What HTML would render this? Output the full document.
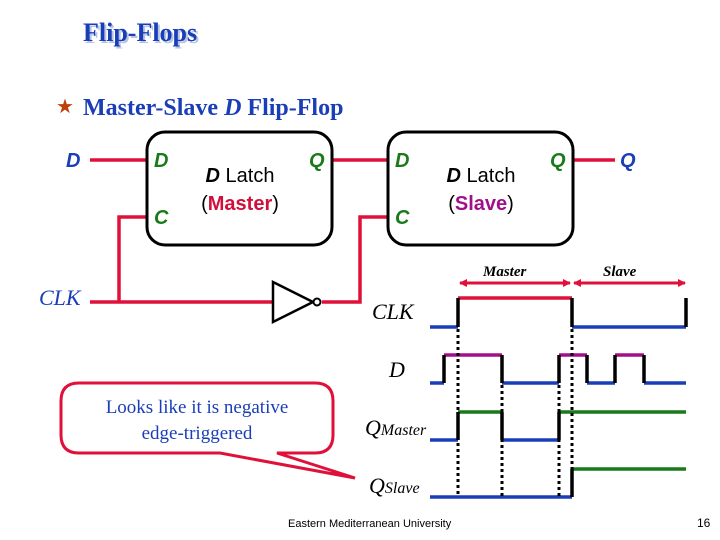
<!DOCTYPE html>
<html><head><meta charset="utf-8"><style>
html,body{margin:0;padding:0;background:#fff;width:720px;height:540px;overflow:hidden}
svg{display:block}
.s{font-family:"Liberation Serif",serif}
.a{font-family:"Liberation Sans",sans-serif}
</style></head><body>
<svg width="720" height="540" viewBox="0 0 720 540">
<defs>
<marker id="ar" markerWidth="8" markerHeight="8" refX="7" refY="4" orient="auto" markerUnits="userSpaceOnUse"><path d="M0,0 L8,4 L0,8 Z" fill="#e0103a"/></marker>
</defs>
<text x="85" y="43" class="s" font-size="26" font-weight="bold" fill="#b8c4e0">Flip-Flops</text>
<text x="83" y="41" class="s" font-size="26" font-weight="bold" fill="#1a3eb8">Flip-Flops</text>
<text x="56" y="113" class="s" font-size="20" fill="#c0400a">★</text>
<text x="83" y="115" class="s" font-size="24" font-weight="bold" fill="#1a3eb8">Master-Slave <tspan font-style="italic">D</tspan> Flip-Flop</text>

<g stroke="#e0103a" stroke-width="3.5" fill="none">
<path d="M90,160 H147"/><path d="M332,160 H388"/><path d="M573,160 H615"/>
<path d="M90,302 H272"/><path d="M119,302 V217 H147"/>
<path d="M322,302 H360 V217 H388"/>
</g>
<rect x="147" y="132" width="185" height="113" rx="18" fill="#fff" stroke="#000" stroke-width="3"/>
<rect x="388" y="132" width="185" height="113" rx="18" fill="#fff" stroke="#000" stroke-width="3"/>
<path d="M273,282 L313,302 L273,322 Z" fill="#fff" stroke="#000" stroke-width="2.5"/>
<circle cx="317" cy="302" r="3.5" fill="#fff" stroke="#000" stroke-width="2"/>
<g class="a" font-size="20" font-weight="bold" font-style="italic">
<text x="66" y="167" fill="#1a3eb8">D</text>
<text x="154" y="167" fill="#1a7a1a">D</text>
<text x="154" y="224" fill="#1a7a1a">C</text>
<text x="309" y="167" fill="#1a7a1a">Q</text>
<text x="395" y="167" fill="#1a7a1a">D</text>
<text x="395" y="224" fill="#1a7a1a">C</text>
<text x="550" y="167" fill="#1a7a1a">Q</text>
<text x="620" y="167" fill="#1a3eb8">Q</text>
</g>
<g class="a" font-size="20" text-anchor="middle">
<text x="240" y="182"><tspan font-style="italic" font-weight="bold">D</tspan> Latch</text>
<text x="240" y="210">(<tspan fill="#d0103a" font-weight="bold">Master</tspan>)</text>
<text x="481" y="182"><tspan font-style="italic" font-weight="bold">D</tspan> Latch</text>
<text x="481" y="210">(<tspan fill="#a0108a" font-weight="bold">Slave</tspan>)</text>
</g>
<text x="39" y="305" class="s" font-size="22" font-style="italic" fill="#1a3eb8">CLK</text>

<text x="483" y="276" class="s" font-size="15" font-weight="bold" font-style="italic">Master</text>
<text x="603" y="276" class="s" font-size="15" font-weight="bold" font-style="italic">Slave</text>
<g stroke="#e0103a" stroke-width="3" fill="none">
<path d="M515,283 H460" marker-end="url(#ar)"/><path d="M515,283 H570" marker-end="url(#ar)"/>
<path d="M629,283 H574" marker-end="url(#ar)"/><path d="M629,283 H685" marker-end="url(#ar)"/>
</g>
<g class="s" font-size="22" font-style="italic">
<text x="372" y="319">CLK</text>
<text x="389" y="377">D</text>
<text x="365" y="435">Q<tspan font-size="16">Master</tspan></text>
<text x="369" y="493">Q<tspan font-size="16">Slave</tspan></text>
</g>
<g stroke-width="3.5" fill="none">
<path d="M430,327 H458" stroke="#1a3eb8"/>
<path d="M458,298 H572" stroke="#e0103a"/>
<path d="M572,327 H686" stroke="#1a3eb8"/>
<path d="M458,327 V298 M572,298 V327 M686,327 V298" stroke="#000"/>
<path d="M430,383 H444 M502,383 H559 M587,383 H615 M644,383 H686" stroke="#1a3eb8"/>
<path d="M444,355 H502 M559,355 H587 M615,355 H644" stroke="#a0108a"/>
<path d="M444,383 V355 M502,355 V383 M559,383 V355 M587,355 V383 M615,383 V355 M644,355 V383" stroke="#000"/>
<path d="M430,440 H458 M502,440 H559" stroke="#1a3eb8"/>
<path d="M458,412 H502 M559,412 H686" stroke="#1a7a1a"/>
<path d="M458,440 V412 M502,412 V440 M559,440 V412" stroke="#000"/>
<path d="M430,497 H572" stroke="#1a3eb8"/>
<path d="M572,469 H686" stroke="#1a7a1a"/>
<path d="M572,497 V469" stroke="#000"/>
</g>
<g stroke="#000" stroke-width="3" stroke-dasharray="3,3" fill="none">
<path d="M458,329 V497 M502,385 V497 M559,385 V497 M572,329 V469"/>
</g>

<path d="M80,383 H315 Q333,383 333,401 V435 Q333,453 315,453 H277 L355,478 L220,453 H79 Q61,453 61,435 V401 Q61,383 79,383 Z" fill="#fff" stroke="#e0103a" stroke-width="3"/>
<g class="s" font-size="19" fill="#1a3eb8" text-anchor="middle">
<text x="197" y="413">Looks like it is negative</text>
<text x="197" y="439">edge-triggered</text>
</g>
<text x="288" y="527" class="a" font-size="11">Eastern Mediterranean University</text>
<text x="697" y="527" class="a" font-size="12">16</text>
</svg>
</body></html>
